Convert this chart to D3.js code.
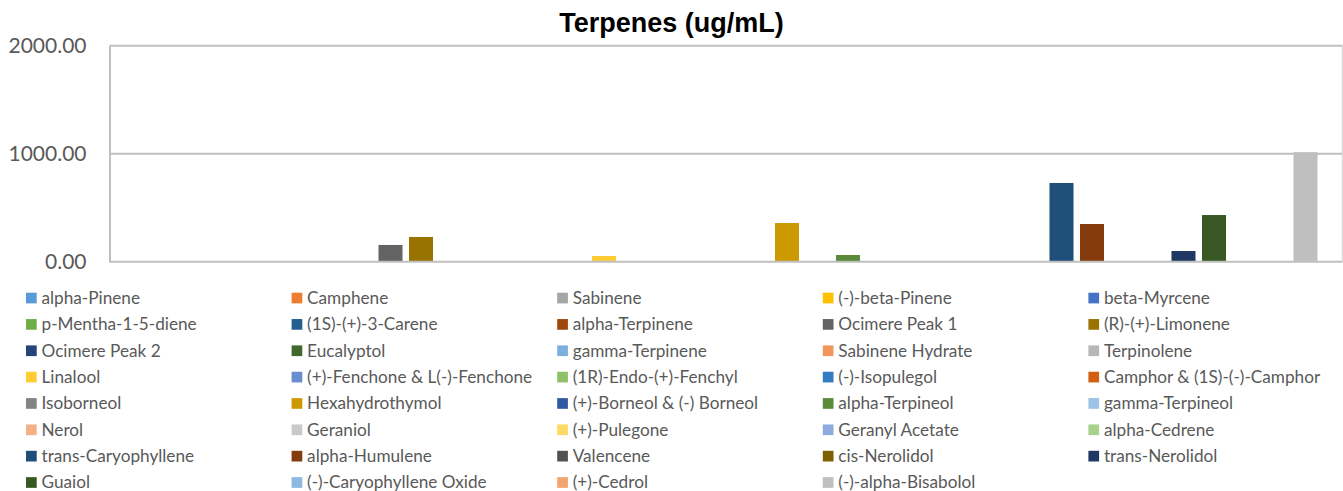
<!DOCTYPE html>
<html>
<head>
<meta charset="utf-8">
<script src="https://cdn.jsdelivr.net/npm/d3@7/dist/d3.min.js"></script>
<style>
  html, body { margin: 0; padding: 0; background: #ffffff; }
  svg { display: block; }
</style>
</head>
<body>
<svg id="chart" width="1343" height="491"></svg>
<script>
// ---- Data ----
const seriesNames = [
  "alpha-Pinene", "Camphene", "Sabinene", "(-)-beta-Pinene", "beta-Myrcene",
  "p-Mentha-1-5-diene", "(1S)-(+)-3-Carene", "alpha-Terpinene", "Ocimere Peak 1", "(R)-(+)-Limonene",
  "Ocimere Peak 2", "Eucalyptol", "gamma-Terpinene", "Sabinene Hydrate", "Terpinolene",
  "Linalool", "(+)-Fenchone & L(-)-Fenchone", "(1R)-Endo-(+)-Fenchyl", "(-)-Isopulegol", "Camphor & (1S)-(-)-Camphor",
  "Isoborneol", "Hexahydrothymol", "(+)-Borneol & (-) Borneol", "alpha-Terpineol", "gamma-Terpineol",
  "Nerol", "Geraniol", "(+)-Pulegone", "Geranyl Acetate", "alpha-Cedrene",
  "trans-Caryophyllene", "alpha-Humulene", "Valencene", "cis-Nerolidol", "trans-Nerolidol",
  "Guaiol", "(-)-Caryophyllene Oxide", "(+)-Cedrol", "(-)-alpha-Bisabolol"
];
const seriesValues = [
  0, 0, 0, 0, 0,
  0, 0, 0, 155, 229,
  0, 0, 0, 0, 0,
  53, 0, 0, 0, 0,
  0, 358, 0, 62, 0,
  0, 0, 0, 0, 0,
  729, 349, 0, 0, 99,
  432, 0, 0, 1014
];
const seriesColors = [
  "#5B9BD5", "#ED7D31", "#A5A5A5", "#FFC000", "#4472C4",
  "#70AD47", "#255E91", "#9E480E", "#636363", "#997300",
  "#264478", "#43682B", "#7CAFDD", "#F1975A", "#B7B7B7",
  "#FFCD33", "#698ED0", "#8CC168", "#327DC2", "#D26012",
  "#848484", "#CC9A00", "#335AA1", "#5A8A39", "#9DC3E6",
  "#F4B183", "#C9C9C9", "#FFD966", "#8FAADC", "#A9D18E",
  "#1F4E79", "#843C0C", "#525252", "#7F6000", "#203864",
  "#385723", "#8CB8E2", "#F3A56F", "#BFBFBF"
];
const yTicks = [0, 1000, 2000];
const chartTitle = "Terpenes (ug/mL)";

// ---- Layout ----
const svg = d3.select("#chart");
const plot = { left: 109.5, right: 1342.5, top: 45.7, bottom: 261.7 };
const gridColor = "#BFBFBF";
const textColor = "#595959";
const bodyFont = "Lato, 'Open Sans', sans-serif";

const x = d3.scaleBand()
  .domain(seriesNames)
  .range([plot.left, plot.right])
  .paddingInner(0.213)
  .paddingOuter(0.82);

const y = d3.scaleLinear()
  .domain([0, 2000])
  .range([plot.bottom, plot.top]);

// Title
svg.append("text")
  .attr("x", 671.5)
  .attr("y", 31.5)
  .attr("text-anchor", "middle")
  .attr("font-family", "'Liberation Sans', Arial, sans-serif")
  .attr("font-weight", "bold")
  .attr("font-size", 27)
  .attr("fill", "#000000")
  .text(chartTitle);

// Gridlines
svg.append("g")
  .selectAll("line")
  .data(yTicks.filter(d => d > 0))
  .join("line")
  .attr("x1", plot.left)
  .attr("x2", plot.right)
  .attr("y1", d => y(d))
  .attr("y2", d => y(d))
  .attr("stroke", gridColor)
  .attr("stroke-width", 2);

// Right border
svg.append("line")
  .attr("x1", plot.right).attr("x2", plot.right)
  .attr("y1", plot.top).attr("y2", plot.bottom)
  .attr("stroke", "#D9D9D9").attr("stroke-width", 1.5);

// Y axis
const yAxis = d3.axisLeft(y)
  .tickValues(yTicks)
  .tickSize(0)
  .tickPadding(23)
  .tickFormat(d3.format(".2f"));

const gy = svg.append("g")
  .attr("transform", `translate(${plot.left},0)`)
  .call(yAxis);
gy.select(".domain").attr("stroke", gridColor).attr("stroke-width", 2);
gy.selectAll("text")
  .attr("font-family", bodyFont)
  .attr("font-size", 21)
  .attr("fill", textColor);

// Bars
svg.append("g")
  .selectAll("rect")
  .data(seriesNames.map((n, i) => ({ name: n, value: seriesValues[i], color: seriesColors[i] })))
  .join("rect")
  .attr("x", d => x(d.name))
  .attr("width", x.bandwidth())
  .attr("y", d => y(d.value))
  .attr("height", d => y(0) - y(d.value))
  .attr("fill", d => d.color);

// X axis baseline
svg.append("line")
  .attr("x1", plot.left).attr("x2", plot.right)
  .attr("y1", y(0)).attr("y2", y(0))
  .attr("stroke", gridColor).attr("stroke-width", 2);

// Legend
const legendCols = 5;
const colX = d3.scaleLinear().domain([0, 1]).range([26, 291.6]);
const rowY = d3.scaleLinear().domain([0, 1]).range([298, 324.35]);
const legend = svg.append("g")
  .selectAll("g")
  .data(seriesNames.map((n, i) => ({ name: n, color: seriesColors[i], i })))
  .join("g")
  .attr("transform", d => `translate(${colX(d.i % legendCols)},${rowY(Math.floor(d.i / legendCols))})`);
legend.append("rect")
  .attr("x", 0).attr("y", -5.3)
  .attr("width", 10.7).attr("height", 10.7)
  .attr("fill", d => d.color);
legend.append("text")
  .attr("x", 15.5)
  .attr("y", 0)
  .attr("dy", "0.35em")
  .attr("font-family", bodyFont)
  .attr("font-size", 17.2)
  .attr("fill", textColor)
  .text(d => d.name);
</script>
</body>
</html>
